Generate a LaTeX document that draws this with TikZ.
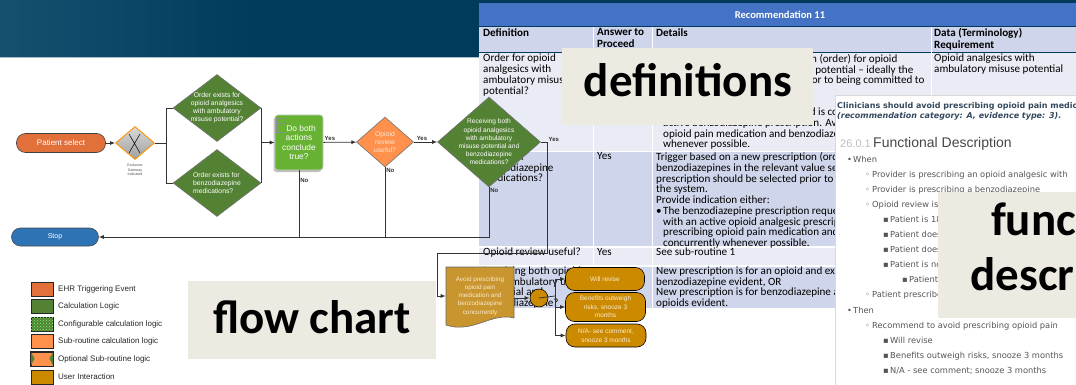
\documentclass[tikz,border=0pt]{standalone}
\usepackage{fontspec}
\setmainfont{Liberation Sans}
\newfontfamily\calfont{Carlito}
\newfontfamily\verfont{DejaVu Sans}
\usetikzlibrary{shapes.geometric,arrows.meta,shadows,patterns}

\definecolor{hdr}{HTML}{023A5B}
\definecolor{hdrhi}{HTML}{16506F}
\definecolor{hdrline}{HTML}{A7BDC9}
\definecolor{tblue}{HTML}{4472C4}
\definecolor{tdark}{HTML}{CFD5EA}
\definecolor{tlight}{HTML}{E9EBF5}
\definecolor{tagbg}{HTML}{ECEAE1}
\definecolor{ehr}{HTML}{E2703A}
\definecolor{calc}{HTML}{548235}
\definecolor{bothgreen}{HTML}{67B233}
\definecolor{subr}{HTML}{FF914D}
\definecolor{subtxt}{HTML}{FFE6D2}
\definecolor{uigold}{HTML}{CC8A00}
\definecolor{avoidc}{HTML}{C9952E}
\definecolor{avoidtxt}{HTML}{FAEBCF}
\definecolor{stopblue}{HTML}{2E74B5}
\definecolor{desctxt}{HTML}{555555}
\definecolor{deschd}{HTML}{34495E}

\tikzset{
  flow/.style={draw=black!75, line width=0.6pt, text=white, align=center,
    font=\fontsize{6.3}{7.8}\selectfont},
  term/.style={flow, rounded corners=9pt, minimum height=19pt,
    font=\fontsize{8}{9}\selectfont},
  decision/.style={flow, diamond, inner sep=-20pt, fill=calc, draw=black!55,
    font=\fontsize{6.8}{7.9}\selectfont},
  choice/.style={flow, rounded corners=9pt, fill=uigold, draw=black,
    minimum width=79pt, text=avoidtxt, font=\fontsize{6.5}{8.5}\selectfont},
  yn/.style={font=\bfseries\fontsize{6}{7}\selectfont, inner sep=1pt},
  conn/.style={black!80, line width=0.8pt},
  cell/.style={anchor=north west, align=left, inner sep=0pt,
    font=\calfont\fontsize{11.1}{10.7}\selectfont},
  cellhd/.style={cell, font=\calfont\bfseries\fontsize{11.1}{12}\selectfont},
  tagbox/.style={fill=tagbg, inner sep=0pt},
  tagtext/.style={anchor=base, inner sep=0pt,
    font=\calfont\bfseries\fontsize{47}{55}\selectfont},
  legsq/.style={draw=black!85, line width=0.8pt, minimum width=22pt,
    minimum height=14pt, inner sep=0pt},
  legtxt/.style={anchor=west, inner sep=0pt, text=black!85,
    font=\fontsize{8}{9}\selectfont},
}

\begin{document}
\begin{tikzpicture}[x=1pt, y=-1pt, >={Latex[length=5pt,width=4pt]}]
    \useasboundingbox (0,0) rectangle (1076,385);
    \clip (0,0) rectangle (1076,385);

    % slide header
    \fill[hdr] (0,0) rectangle (1076,57);
    \shade[left color=hdrhi, right color=hdr] (0,0) rectangle (260,57);
    \draw[hdrline, line width=1.2pt] (0,57.6) -- (1076,57.6);

    % recommendation table
    \fill[tblue] (479,3) rectangle (1076,26);
    \fill[tdark] (479,27.5) rectangle (1076,52);
    \fill[tlight] (479,53.5) rectangle (1076,151);
    \fill[tdark] (479,152.5) rectangle (1076,246);
    \fill[tlight] (479,247.5) rectangle (1076,265);
    \fill[tdark] (479,266.5) rectangle (1076,308);
    \draw[white, line width=1.5pt] (593.5,27.5) -- (593.5,308);
    \draw[white, line width=1.5pt] (652.5,27.5) -- (652.5,308);
    \draw[white, line width=1.5pt] (931.5,27.5) -- (931.5,308);

    \node[text=white, font=\calfont\bfseries\fontsize{10.5}{12}\selectfont] (rec) at (780,14.5) {Recommendation 11};
    \node[cellhd] (hdef) at (483,28.5) {Definition};
    \node[cellhd] (hans) at (597,28.5) {Answer to\\Proceed};
    \node[cellhd] (hdet) at (656,28.5) {Details};
    \node[cellhd] (hdat) at (934,28.5) {Data (Terminology)\\Requirement};

    \node[cell] (def1) at (483,54) {Order for opioid\\analgesics with\\ambulatory misuse\\potential?};
    \node[cell] (det1) at (656,54) {Trigger based on a new prescription (order) for opioid\\analgesics with ambulatory misuse potential – ideally the\\prescription should be selected prior to being committed to\\the system.\\Provide indication either:\\\makebox[7pt][l]{•}The opioid prescription requested is concurrent with an\\\hspace*{7pt}active benzodiazepine prescription. Avoid prescribing\\\hspace*{7pt}opioid pain medication and benzodiazepines concurrently\\\hspace*{7pt}whenever possible.};
    \node[cell] (dat1) at (934,54) {Opioid analgesics with\\ambulatory misuse potential};

    \node[cell] (def2) at (483,152.5) {Order for\\benzodiazepine\\medications?};
    \node[cell] (ans2) at (597,152.5) {Yes};
    \node[cell] (det2) at (656,152.5) {Trigger based on a new prescription (order) for\\benzodiazepines  in the relevant value set – ideally the\\prescription should be selected prior to being committed to\\the system.\\Provide indication either:\\\makebox[7pt][l]{•}The benzodiazepine prescription requested is concurrent\\\hspace*{7pt}with an active opioid analgesic prescription. Avoid\\\hspace*{7pt}prescribing opioid pain medication and benzodiazepines\\\hspace*{7pt}concurrently whenever possible.};

    \node[cell] (def3) at (483,248) {Opioid review useful?};
    \node[cell] (ans3) at (597,248) {Yes};
    \node[cell] (det3) at (656,248) {See sub-routine 1};

    \node[cell] (def4) at (483,266.5) {Receiving both opioids\\with ambulatory use\\potential and\\benzodiazepine?};
    \node[cell] (det4) at (656,266.5) {New prescription is for an opioid and existing\\benzodiazepine  evident, OR\\New prescription is for benzodiazepine and existing\\opioids evident.};

    \node[tagbox, minimum width=251pt, minimum height=77pt] (defbox) at (687.5,86.5) {};
    \node[tagtext] (deftag) at (688,97) {definitions};

    % flow chart
    \node[term, fill=ehr, minimum width=89pt] (psel) at (61,143) {Patient select};
    \node[diamond, draw=orange!85!yellow, line width=0.9pt, top color=gray!30, bottom color=gray!75,
        minimum width=39pt, minimum height=33pt, inner sep=0pt] (gw) at (135,143) {};
    \draw[line width=0.5pt] ([shift={(-6,-9)}]gw.center) -- ([shift={(5,10)}]gw.center)
        ([shift={(5,-9)}]gw.center) -- ([shift={(-6,10)}]gw.center);
    \node[text=black!70, align=center, inner sep=0pt, font=\fontsize{3.6}{4.6}\selectfont] (gwlbl) at (135,170) {Exclusive\\Gateway\\Indicated};

    \node[decision, minimum width=88pt, minimum height=67pt] (ordopi) at (217,108) {Order exists for\\opioid analgesics\\with ambulatory\\misuse potential?};
    \node[decision, minimum width=88pt, minimum height=67pt, align=left] (ordbzd) at (217,183) {Order  exists  for\\benzodiazepine\\medications?};
    \node[flow, fill=bothgreen, draw=black!20, rounded corners=3pt, minimum width=48pt, minimum height=55pt,
        drop shadow={shadow xshift=-1.5pt, shadow yshift=-2pt, fill=black!50},
        font=\fontsize{8.4}{9.6}\selectfont] (both) at (299,142.5) {\hspace*{4pt}Do  both\\actions\\conclude\\true?};
    \draw[black!45, line width=0.5pt] ([shift={(2,4)}]both.north west) rectangle ++(9,14)
        ([shift={(2,9)}]both.north west) -- ++(9,0);
    \node[decision, fill=subr, text=subtxt, minimum width=57pt, minimum height=50pt,
        font=\fontsize{6.8}{8.4}\selectfont] (rev) at (385,142) {Opioid\\review\\useful?};
    \node[decision, minimum width=103pt, minimum height=90pt,
        font=\fontsize{6.6}{8.2}\selectfont] (recv) at (489,142) {Receiving  both\\opioid  analgesics\\with ambulatory\\misuse potential and\\benzodiazepine\\medications?};
    \node[term, fill=stopblue, draw=black!70, minimum width=87pt, minimum height=18pt,
        font=\fontsize{7}{8}\selectfont] (stop) at (55,237) {Stop};

    \filldraw[fill=avoidc, draw=black!60, line width=0.6pt] (446,267) -- (514,267) -- (514,318)
        .. controls (492,312) and (472,334) .. (446,325) -- cycle;
    \node[flow, draw=none, text=avoidtxt, minimum width=68pt, minimum height=58pt,
        font=\fontsize{6.3}{8.3}\selectfont] (avoid) at (480,296) {Avoid prescribing\\opioid pain\\medication and\\benzodiazepine\\concurrently};
    \node[circle, draw=black, fill=uigold, minimum size=18pt, inner sep=0pt, line width=0.6pt] (uichoice) at (539,298) {};
    \node[choice, minimum height=23pt] (revise) at (605,279) {Will revise};
    \node[choice, minimum height=29pt, minimum width=80pt] (benefit) at (605.5,307) {Benefits outweigh\\risks, snooze 3\\months};
    \node[choice, minimum height=23pt, minimum width=80pt] (notapp) at (606,335.5) {N/A- see comment,\\snooze 3 months};

    \draw[conn, ->] (psel) -- (gw);
    \draw[conn] (gw.east) -- ++(11,0) coordinate (split);
    \draw[conn] (ordopi.west) -| (split) |- (ordbzd.west);
    \draw[conn] (ordopi.east) -- (ordbzd.east);
    \draw[conn, ->] (ordopi.east |- both.west) -- (both.west);
    \draw[conn, ->] (both) -- node[yn, pos=0.2, above] (yes1) {Yes} (rev);
    \draw[conn, ->] (rev) -- node[yn, pos=0.35, above] (yes2) {Yes} (recv);
    \draw[conn] (both.south) -- node[yn, pos=0.15, right] (no1) {No} (both.south |- stop.east);
    \draw[conn] (rev.south) -- node[yn, pos=0.04, right] (no2) {No} (rev.south |- stop.east);
    \draw[conn, ->] (recv.south) -- node[yn, pos=0.06, right] (no3) {No} (recv.south |- stop.east) -- (stop.east);
    \coordinate (loopcorner) at (437,253);
    \draw[conn, ->] (recv.east) -- ++(7,0) node[yn, above right, inner sep=0.5pt] (yes3) {Yes}
        |- (loopcorner) |- (avoid.west);
    \draw[conn, ->] (avoid.east |- uichoice.west) -- (uichoice.west);
    \coordinate (fork) at (555,296);
    \draw[conn] (uichoice.center) -- (fork);
    \draw[conn, ->] (fork) |- (revise.west);
    \draw[conn, ->] (fork) |- (benefit.west);
    \draw[conn, ->] (fork) |- (notapp.west);

    % functional description page
    \filldraw[fill=white, draw=black!15] (835,95) rectangle (1080,390);
    \node[anchor=north west, inner sep=0pt, text=deschd, align=left,
        font=\verfont\bfseries\fontsize{8}{10}\selectfont] (fhead) at (837,102) {Clinicians should avoid prescribing opioid pain medication\\\textit{(recommendation category: A, evidence type: 3).}};
    \node[anchor=base west, inner sep=0pt, text=black!25, font=\fontsize{11}{13}\selectfont] (fnum) at (840,147) {26.0.1};
    \node[anchor=base west, inner sep=0pt, text=black!72, font=\fontsize{14}{16}\selectfont] (ftitle) at (873,147) {Functional Description};
    \node[anchor=north west, inner sep=0pt, text=desctxt, align=left,
        font=\verfont\fontsize{8.3}{15.1}\selectfont] (fbody) at (847,155.5) {\makebox[6pt][l]{•}When\\
        \hspace*{18pt}\makebox[7pt][l]{◦}Provider is prescribing an opioid analgesic with\\
        \hspace*{18pt}\makebox[7pt][l]{◦}Provider is prescribing a benzodiazepine\\
        \hspace*{18pt}\makebox[7pt][l]{◦}Opioid review is useful\\
        \hspace*{36pt}\makebox[7pt][l]{▪}Patient is 18 years or older\\
        \hspace*{36pt}\makebox[7pt][l]{▪}Patient does not have cancer\\
        \hspace*{36pt}\makebox[7pt][l]{▪}Patient does not have a terminal illness\\
        \hspace*{36pt}\makebox[7pt][l]{▪}Patient is not in hospice\\
        \hspace*{55pt}\makebox[7pt][l]{▪}Patient has no end of life order\\
        \hspace*{18pt}\makebox[7pt][l]{◦}Patient prescribed both medications\\
        \makebox[6pt][l]{•}Then\\
        \hspace*{18pt}\makebox[7pt][l]{◦}Recommend to avoid prescribing opioid pain\\
        \hspace*{36pt}\makebox[7pt][l]{▪}Will revise\\
        \hspace*{36pt}\makebox[7pt][l]{▪}Benefits outweigh risks, snooze 3 months\\
        \hspace*{36pt}\makebox[7pt][l]{▪}N/A - see comment; snooze 3 months};

    \node[tagbox, minimum width=292pt, minimum height=126pt] (funcbox) at (1084,255) {};
    \node[tagtext] (functag1) at (1090,235) {functional};
    \node[tagtext] (functag2) at (1080,290) {description};

    \node[tagbox, minimum width=248pt, minimum height=78pt] (flowbox) at (312,320) {};
    \node[tagtext] (flowtag) at (312,333) {flow chart};

    % legend
    \node[legsq, fill=ehr] (legehr) at (42,289) {};
    \node[legtxt] (legehrt) at (58,289) {EHR Triggering  Event};
    \node[legsq, fill=calc] (legcalc) at (42,306) {};
    \node[legtxt] (legcalct) at (58,306) {Calculation  Logic};
    \node[legsq, fill=calc, postaction={pattern=crosshatch dots, pattern color=green!55!white}] (legcfg) at (42,324) {};
    \node[legtxt] (legcfgt) at (58,324) {Configurable calculation logic};
    \node[legsq, fill=subr] (legsub) at (42,341.5) {};
    \node[legtxt] (legsubt) at (58,341.5) {Sub-routine calculation logic};
    \node[legsq, fill=subr] (legopt) at (42,359) {};
    \fill[calc] (legopt.north west) -- ([shift={(4,7)}]legopt.north west) -- (legopt.south west) -- cycle;
    \fill[calc] (legopt.north east) -- ([shift={(-4,7)}]legopt.north east) -- (legopt.south east) -- cycle;
    \draw[black!85, line width=0.8pt] (legopt.north west) rectangle (legopt.south east);
    \node[legtxt] (legoptt) at (58,359) {Optional  Sub-routine logic};
    \node[legsq, fill=uigold] (legui) at (42,377) {};
    \node[legtxt] (leguit) at (58,377) {User Interaction};
\end{tikzpicture}
\end{document}
